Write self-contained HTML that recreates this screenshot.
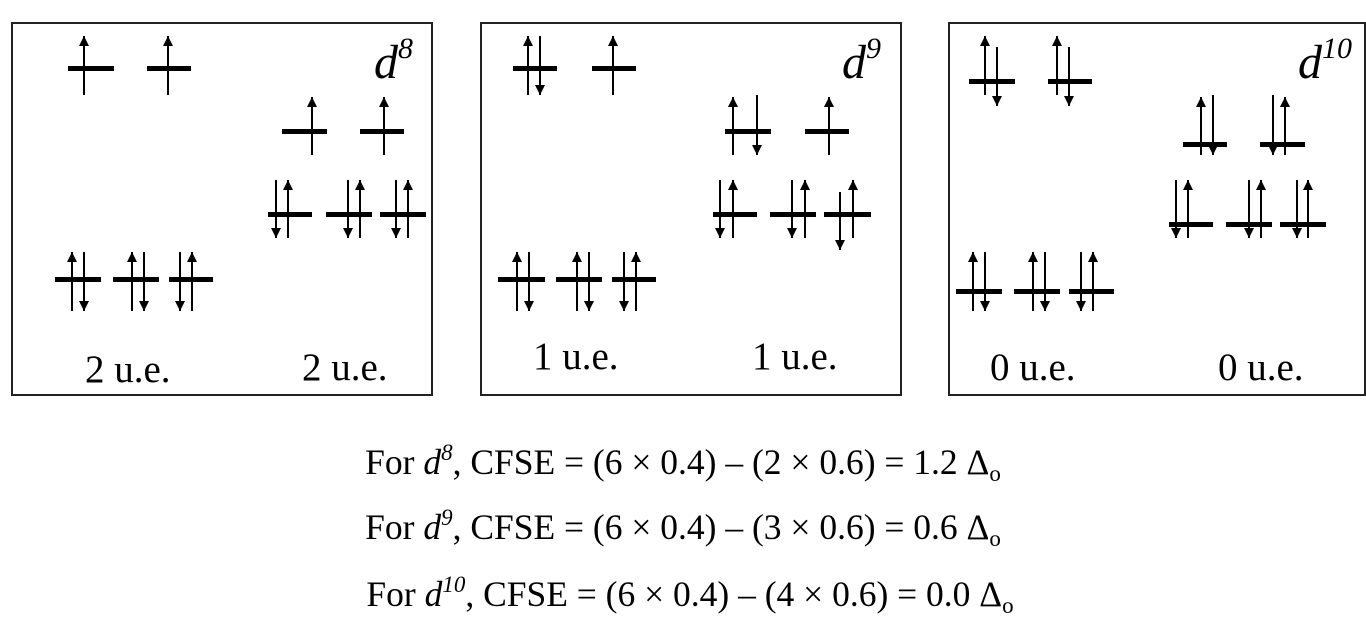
<!DOCTYPE html>
<html><head><meta charset="utf-8"><style>
html,body{margin:0;padding:0;background:#fff;width:1366px;height:621px;overflow:hidden}
svg{display:block}
text{font-family:"Liberation Serif",serif;fill:#000}
</style></head><body>
<svg width="1366" height="621" viewBox="0 0 1366 621" xmlns="http://www.w3.org/2000/svg">
<defs>
<marker id="h" viewBox="0 0 10 10" refX="10" refY="5" markerWidth="11" markerHeight="10" markerUnits="userSpaceOnUse" orient="auto"><path d="M0,0L10,5L0,10z" fill="#000"/></marker>
</defs>
<g fill="none" stroke="#222" stroke-width="2">
<rect x="12" y="23" width="420" height="372"/>
<rect x="481" y="23" width="420" height="372"/>
<rect x="949" y="23" width="416" height="372"/>
</g>
<g fill="#000">
<rect x="68" y="66" width="46" height="5"/><rect x="147" y="66" width="44" height="5"/>
<rect x="282" y="129" width="45" height="5"/><rect x="360" y="129" width="44" height="5"/>
<rect x="268" y="212" width="44" height="5"/><rect x="326" y="212" width="46" height="5"/><rect x="380" y="212" width="46" height="5"/>
<rect x="55" y="277" width="46" height="5"/><rect x="113" y="277" width="46" height="5"/><rect x="169" y="277" width="44" height="5"/>
<rect x="513" y="66" width="44" height="5"/><rect x="592" y="66" width="44" height="5"/>
<rect x="725" y="129" width="46" height="5"/><rect x="805" y="129" width="44" height="5"/>
<rect x="713" y="212" width="44" height="5"/><rect x="770" y="212" width="46" height="5"/><rect x="824" y="212" width="47" height="5"/>
<rect x="498" y="277" width="47" height="5"/><rect x="556" y="277" width="46" height="5"/><rect x="612" y="277" width="44" height="5"/>
<rect x="969" y="79" width="46" height="5"/><rect x="1048" y="79" width="44" height="5"/>
<rect x="1183" y="142" width="44" height="5"/><rect x="1260" y="142" width="45" height="5"/>
<rect x="1169" y="222" width="44" height="5"/><rect x="1226" y="222" width="46" height="5"/><rect x="1280" y="222" width="46" height="5"/>
<rect x="956" y="289" width="46" height="5"/><rect x="1014" y="289" width="46" height="5"/><rect x="1069" y="289" width="45" height="5"/>
</g>
<g stroke="#000" stroke-width="2" marker-end="url(#h)">
<line x1="84" y1="95" x2="84" y2="36"/><line x1="168" y1="95" x2="168" y2="36"/>
<line x1="312" y1="155" x2="312" y2="97"/><line x1="384" y1="155" x2="384" y2="97"/>
<line x1="276" y1="180" x2="276" y2="238"/><line x1="288" y1="238" x2="288" y2="180"/>
<line x1="348" y1="180" x2="348" y2="238"/><line x1="360" y1="238" x2="360" y2="180"/>
<line x1="396" y1="180" x2="396" y2="238"/><line x1="408" y1="238" x2="408" y2="180"/>
<line x1="72" y1="311" x2="72" y2="252"/><line x1="84" y1="252" x2="84" y2="311"/>
<line x1="132" y1="311" x2="132" y2="252"/><line x1="144" y1="252" x2="144" y2="311"/>
<line x1="180" y1="252" x2="180" y2="311"/><line x1="192" y1="311" x2="192" y2="252"/>
<line x1="528" y1="95" x2="528" y2="36"/><line x1="540" y1="36" x2="540" y2="95"/>
<line x1="613" y1="95" x2="613" y2="36"/>
<line x1="733" y1="155" x2="733" y2="97"/><line x1="757" y1="95" x2="757" y2="155"/>
<line x1="829" y1="155" x2="829" y2="97"/>
<line x1="720" y1="180" x2="720" y2="238"/><line x1="733" y1="238" x2="733" y2="180"/>
<line x1="792" y1="180" x2="792" y2="238"/><line x1="805" y1="238" x2="805" y2="180"/>
<line x1="840" y1="192" x2="840" y2="250"/><line x1="853" y1="238" x2="853" y2="180"/>
<line x1="517" y1="311" x2="517" y2="252"/><line x1="529" y1="252" x2="529" y2="311"/>
<line x1="577" y1="311" x2="577" y2="252"/><line x1="589" y1="252" x2="589" y2="311"/>
<line x1="624" y1="252" x2="624" y2="311"/><line x1="636" y1="311" x2="636" y2="252"/>
<line x1="985" y1="95" x2="985" y2="36"/><line x1="997" y1="47" x2="997" y2="106"/>
<line x1="1057" y1="95" x2="1057" y2="36"/><line x1="1069" y1="47" x2="1069" y2="106"/>
<line x1="1201" y1="155" x2="1201" y2="97"/><line x1="1213" y1="95" x2="1213" y2="155"/>
<line x1="1273" y1="95" x2="1273" y2="155"/><line x1="1285" y1="155" x2="1285" y2="97"/>
<line x1="1176" y1="180" x2="1176" y2="238"/><line x1="1188" y1="238" x2="1188" y2="180"/>
<line x1="1249" y1="180" x2="1249" y2="238"/><line x1="1261" y1="238" x2="1261" y2="180"/>
<line x1="1297" y1="180" x2="1297" y2="238"/><line x1="1308" y1="238" x2="1308" y2="180"/>
<line x1="973" y1="311" x2="973" y2="252"/><line x1="985" y1="252" x2="985" y2="311"/>
<line x1="1033" y1="311" x2="1033" y2="252"/><line x1="1045" y1="252" x2="1045" y2="311"/>
<line x1="1081" y1="252" x2="1081" y2="311"/><line x1="1093" y1="311" x2="1093" y2="252"/>
</g>
<g font-size="39">
<text x="85" y="382">2 u.e.</text><text x="302" y="380">2 u.e.</text>
<text x="533" y="369">1 u.e.</text><text x="752" y="369">1 u.e.</text>
<text x="990" y="380">0 u.e.</text><text x="1218" y="380">0 u.e.</text>
</g>
<g font-size="48" font-style="italic">
<text x="374" y="78">d<tspan font-size="30" dy="-20">8</tspan></text>
<text x="842" y="78">d<tspan font-size="30" dy="-20">9</tspan></text>
<text x="1298" y="78">d<tspan font-size="30" dy="-20">10</tspan></text>
</g>
<g font-size="35.5" text-anchor="middle">
<text x="683" y="474">For <tspan font-style="italic">d</tspan><tspan font-style="italic" font-size="23" dy="-14">8</tspan><tspan dy="14">, CFSE = (6 × 0.4) – (2 × 0.6) = 1.2 Δ</tspan><tspan font-size="23" dy="7">o</tspan></text>
<text x="683" y="539">For <tspan font-style="italic">d</tspan><tspan font-style="italic" font-size="23" dy="-14">9</tspan><tspan dy="14">, CFSE = (6 × 0.4) – (3 × 0.6) = 0.6 Δ</tspan><tspan font-size="23" dy="7">o</tspan></text>
<text x="690" y="606">For <tspan font-style="italic">d</tspan><tspan font-style="italic" font-size="23" dy="-14">10</tspan><tspan dy="14">, CFSE = (6 × 0.4) – (4 × 0.6) = 0.0 Δ</tspan><tspan font-size="23" dy="7">o</tspan></text>
</g>
</svg>
</body></html>
